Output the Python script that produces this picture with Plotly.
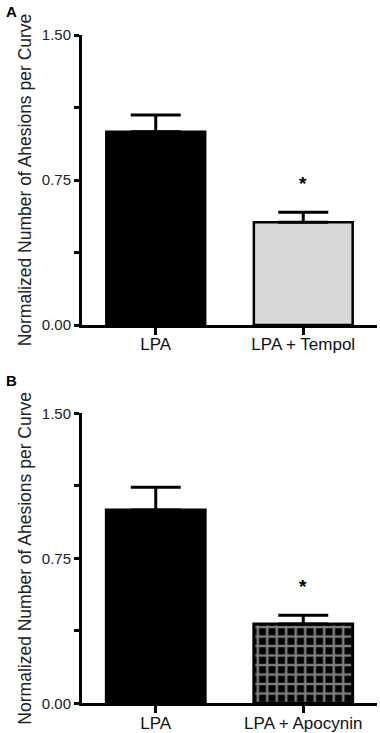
import plotly.graph_objects as go

categories_a = ["LPA", "LPA + Tempol"]
values_a = [1.0, 0.531]
errors_a = [0.086, 0.052]
star_a = [0.73]

categories_b = ["LPA", "LPA + Apocynin"]
values_b = [1.0, 0.41]
errors_b = [0.117, 0.045]
star_b = [0.605]

ytick_vals = [0, 0.375, 0.75, 1.125, 1.5]
ytick_text = ["0.00", "", "0.75", "", "1.50"]
ytitle = "Normalized Number of Ahesions per Curve"

W, H = 380, 733
FONT = "Liberation Sans, Arial, sans-serif"

fig = go.Figure()

# Panel A
fig.add_trace(go.Bar(
    x=categories_a, y=values_a, width=0.67,
    marker=dict(color=["#000000", "#d8d8d8"], line=dict(color="#000000", width=2.5)),
    error_y=dict(type="data", array=errors_a, arrayminus=[0, 0], symmetric=False,
                 color="#000000", thickness=3, width=25),
    xaxis="x", yaxis="y", showlegend=False,
))
# Panel B
fig.add_trace(go.Bar(
    x=categories_b, y=values_b, width=0.67,
    marker=dict(color=["#000000", "#000000"], line=dict(color="#000000", width=3),
                pattern=dict(shape=["", "+"], fgcolor="#ffffff", bgcolor="#000000",
                             size=9.5, solidity=0.45, fillmode="overlay")),
    error_y=dict(type="data", array=errors_b, arrayminus=[0, 0], symmetric=False,
                 color="#000000", thickness=3, width=25),
    xaxis="x2", yaxis="y2", showlegend=False,
))

xdom = [82 / W, 377 / W]
ydom_a = [1 - 325 / H, 1 - 35 / H]
ydom_b = [1 - 703.3 / H, 1 - 413.3 / H]

axis_common_y = dict(
    range=[0, 1.5], tickvals=ytick_vals, ticktext=ytick_text,
    ticks="outside", ticklen=5, tickwidth=2.5, tickcolor="#000",
    showline=True, linecolor="#000", linewidth=3, showgrid=False, zeroline=False,
    tickfont=dict(family=FONT, size=15, color="#222"),
    title=dict(text=ytitle, font=dict(family=FONT, size=17.5, color="#222"), standoff=6),
    automargin=False,
)
axis_common_x = dict(
    range=[-0.5, 1.5], type="category",
    ticks="outside", ticklen=7, tickwidth=2.5, tickcolor="#000",
    showline=True, linecolor="#000", linewidth=3, showgrid=False,
    tickfont=dict(family=FONT, size=17, color="#111"),
    ticklabelstandoff=-5,
    automargin=False,
)

fig.update_layout(
    width=W, height=H,
    margin=dict(l=0, r=0, t=0, b=0, autoexpand=False),
    plot_bgcolor="white", paper_bgcolor="white",
    xaxis=dict(domain=xdom, anchor="y", **axis_common_x),
    yaxis=dict(domain=ydom_a, anchor="x", **axis_common_y),
    xaxis2=dict(domain=xdom, anchor="y2", **axis_common_x),
    yaxis2=dict(domain=ydom_b, anchor="x2", **axis_common_y),
    bargap=0.33,
)

fig.add_annotation(x=categories_a[1], y=star_a[0], xref="x", yref="y", text="<b>*</b>",
                   showarrow=False, font=dict(family=FONT, size=19, color="#000"))
fig.add_annotation(x=categories_b[1], y=star_b[0], xref="x2", yref="y2", text="<b>*</b>",
                   showarrow=False, font=dict(family=FONT, size=19, color="#000"))

fig.add_annotation(x=4 / W, y=1 - 1 / H, xref="paper", yref="paper", text="<b>A</b>",
                   showarrow=False, xanchor="left", yanchor="top",
                   font=dict(family=FONT, size=15, color="#000"))
fig.add_annotation(x=4 / W, y=1 - 370 / H, xref="paper", yref="paper", text="<b>B</b>",
                   showarrow=False, xanchor="left", yanchor="top",
                   font=dict(family=FONT, size=15, color="#000"))

fig.write_html(
    "out.html",
    config={"displayModeBar": False},
    post_script="document.body.style.margin='0';document.body.style.overflow='hidden';",
)
